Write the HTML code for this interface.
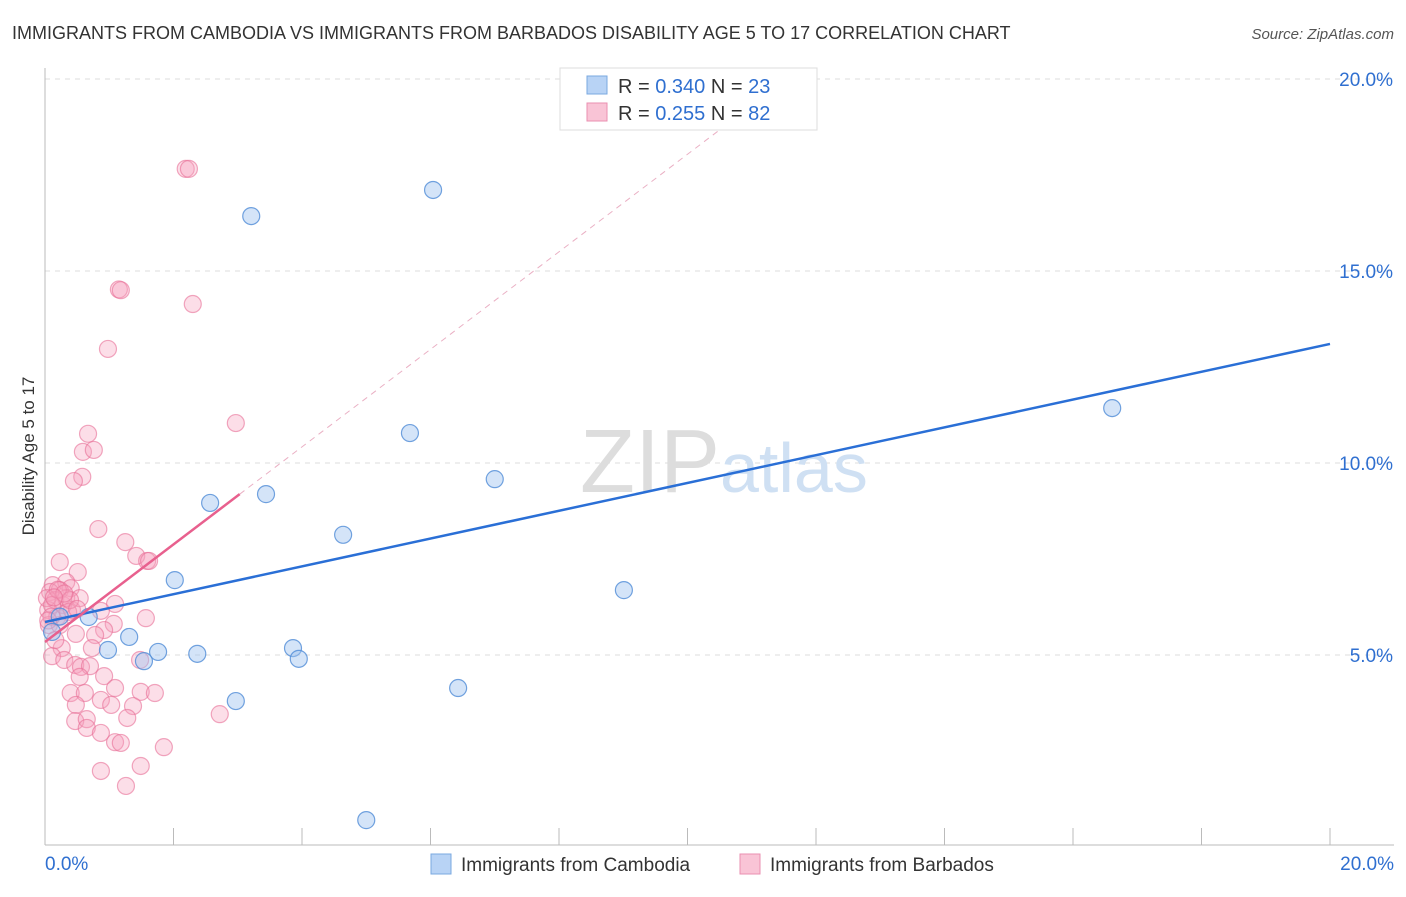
<!DOCTYPE html>
<html><head><meta charset="utf-8"><style>
body{margin:0;background:#fff;font-family:"Liberation Sans",sans-serif;}
svg text{font-family:"Liberation Sans",sans-serif;}
</style></head><body>
<svg width="1406" height="892" xmlns="http://www.w3.org/2000/svg">
<text x="12" y="39" font-size="18" fill="#333">IMMIGRANTS FROM CAMBODIA VS IMMIGRANTS FROM BARBADOS DISABILITY AGE 5 TO 17 CORRELATION CHART</text>
<text x="1394" y="39" font-size="15" fill="#555" font-style="italic" text-anchor="end">Source: ZipAtlas.com</text>
<text x="34" y="456" font-size="17" fill="#333" text-anchor="middle" transform="rotate(-90 34 456)">Disability Age 5 to 17</text>
<g id="grid"></g>
<text x="720" y="492" font-size="90" fill="#ddd" font-family="Liberation Serif" text-anchor="end">ZIP</text>
<text x="720" y="492" font-size="70" fill="#cfe0f3">atlas</text>
<g id="marks"></g>
<g>
<rect x="560" y="68" width="257" height="62" fill="#fff" stroke="#ddd"/>
<rect x="587" y="76" width="20" height="18" fill="#b8d3f5" stroke="#7aa8e0"/>
<rect x="587" y="103" width="20" height="18" fill="#f9c4d6" stroke="#ea8fb0"/>
<text x="618" y="93" font-size="20" fill="#333">R = <tspan fill="#2f6fd0">0.340</tspan>   N = <tspan fill="#2f6fd0">23</tspan></text>
<text x="618" y="120" font-size="20" fill="#333">R =  <tspan fill="#2f6fd0">0.255</tspan>   N = <tspan fill="#2f6fd0">82</tspan></text>
</g>
<g>
<rect x="431" y="854" width="20" height="20" fill="#b8d3f5" stroke="#7aa8e0"/>
<text x="461" y="871" font-size="19" fill="#333">Immigrants from Cambodia</text>
<rect x="740" y="854" width="20" height="20" fill="#f9c4d6" stroke="#ea8fb0"/>
<text x="770" y="871" font-size="19" fill="#333">Immigrants from Barbados</text>
</g>
</svg>
<script>
const yTicks=[5,10,15,20];
const xTickLabels=["0.0%","20.0%"];
const cambodiaX=[3.21,6.04,16.61,5.68,7.00,3.44,2.57,4.64,2.02,9.01,0.68,1.31,0.98,1.76,2.37,1.54,3.86,3.95,6.43,2.97,5.00,0.11,0.23];
const cambodiaY=[16.43,17.11,11.43,10.78,9.58,9.19,8.96,8.13,6.95,6.69,5.99,5.47,5.13,5.08,5.03,4.84,5.18,4.90,4.14,3.80,0.70,5.6,6.0];
const barbadosX=[2.19,2.24,1.15,1.18,2.30,0.98,2.97,0.67,0.59,0.76,0.58,0.45,0.83,1.25,1.42,1.59,1.62,0.23,0.51,0.12,0.33,0.40,0.23,0.08,1.09,0.87,0.16,0.28,0.05,0.19,0.42,0.33,0.54,1.57,1.07,0.92,0.48,0.78,0.73,0.26,0.11,0.30,0.47,0.56,0.70,1.48,0.54,0.92,0.40,0.62,1.09,1.49,1.71,0.87,0.48,1.03,1.37,2.72,0.47,0.65,1.28,0.65,0.87,1.09,1.18,1.85,0.87,1.49,1.26,0.03,0.11,0.36,0.20,0.06,0.23,0.16,0.39,0.10,0.30,0.50,0.05,0.14];
const barbadosY=[17.66,17.66,14.52,14.5,14.14,12.97,11.04,10.76,10.29,10.34,9.64,9.53,8.28,7.94,7.58,7.45,7.45,7.42,7.16,6.82,6.90,6.74,6.69,6.64,6.33,6.15,6.43,6.30,6.17,5.99,6.17,6.48,6.48,5.96,5.81,5.65,5.55,5.52,5.18,5.18,4.97,4.87,4.74,4.69,4.71,4.87,4.43,4.45,4.01,4.01,4.14,4.04,4.01,3.83,3.70,3.70,3.67,3.46,3.28,3.33,3.36,3.10,2.97,2.73,2.71,2.60,1.98,2.11,1.59,6.48,6.30,6.12,6.70,5.78,5.78,5.39,6.43,6.0,6.6,6.2,5.9,6.5];
const cambodiaFit=[5.86,13.1];
const barbadosFit=[5.34,1.27];
const X=v=>45+v*64.25, Y=v=>847-v*38.4;
const NS="http://www.w3.org/2000/svg";
function mk(t,a,p){const e=document.createElementNS(NS,t);for(const k in a)e.setAttribute(k,a[k]);p.appendChild(e);return e;}
const g=document.getElementById('grid'), m=document.getElementById('marks');
yTicks.forEach(t=>{
const l=mk('line',{x1:45,x2:1394,y1:Y(t),y2:Y(t),stroke:'#ddd','stroke-dasharray':'5,5'},g);


const tx=mk('text',{x:1393,y:Y(t)+7,'font-size':19,fill:'#2f6fd0','text-anchor':'end'},g);
tx.textContent=t.toFixed(1)+'%';


});
const ax=mk('line',{x1:45,x2:45,y1:68,y2:845,stroke:'#bbb'},g);


const bx=mk('line',{x1:45,x2:1394,y1:845,y2:845,stroke:'#bbb'},g);


for(let i=0;i<=10;i++){const t=mk('line',{x1:X(i*2),x2:X(i*2),y1:828,y2:845,stroke:'#bbb'},g);

}
const xl0=mk('text',{x:45,y:870,'font-size':19,fill:'#2f6fd0'},g);xl0.textContent=xTickLabels[0];


const xl1=mk('text',{x:1394,y:870,'font-size':19,fill:'#2f6fd0','text-anchor':'end'},g);xl1.textContent=xTickLabels[1];


barbadosX.forEach((v,i)=>{const c=mk('circle',{cx:X(v),cy:Y(barbadosY[i]),r:8.5,fill:'rgba(245,160,190,0.35)',stroke:'rgba(232,110,150,0.6)','stroke-width':1.2},m);

});
cambodiaX.forEach((v,i)=>{const c=mk('circle',{cx:X(v),cy:Y(cambodiaY[i]),r:8.5,fill:'rgba(160,195,240,0.45)',stroke:'rgba(80,140,215,0.8)','stroke-width':1.2},m);

});
const cl=mk('line',{x1:X(0),y1:Y(cambodiaFit[0]),x2:X(20),y2:Y(cambodiaFit[1]),stroke:'#2a6fd6','stroke-width':2.5},m);


const pd=mk('line',{x1:X(3.03),y1:Y(barbadosFit[0]+barbadosFit[1]*3.03),x2:X(10.9),y2:Y(barbadosFit[0]+barbadosFit[1]*10.9),stroke:'#eab0c4','stroke-width':1,'stroke-dasharray':'6,5'},m);


const pl=mk('line',{x1:X(0),y1:Y(barbadosFit[0]),x2:X(3.03),y2:Y(barbadosFit[0]+barbadosFit[1]*3.03),stroke:'#e8608e','stroke-width':2.5},m);


</script>
</body></html>
